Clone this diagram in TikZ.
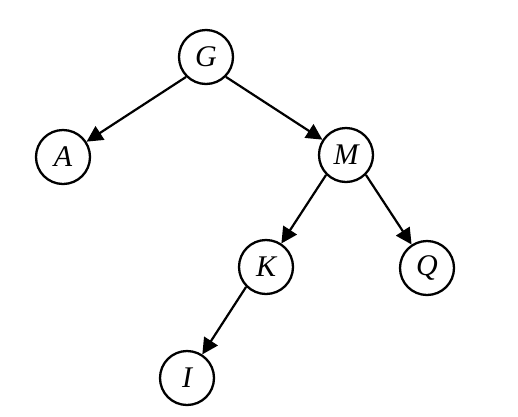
\documentclass[tikz,border=0pt]{standalone}
\usepackage{fontspec}
\setmainfont{Liberation Serif}
\usetikzlibrary{arrows.meta}
\begin{document}
\begin{tikzpicture}[x=1pt,y=-1pt,
  vtx/.style={circle,draw,line width=2.3pt,minimum size=54pt,inner sep=0pt,font=\fontsize{30}{32}\selectfont\itshape},
  edge/.style={line width=2.2pt,-{Triangle[length=16pt,width=16pt]}}]
\useasboundingbox (0,0) rectangle (518,416);
\node[vtx] (G) at (206,57) {G};
\node[vtx] (A) at (63,157) {A};
\node[vtx] (M) at (346,155) {M};
\node[vtx] (K) at (266,267) {K};
\node[vtx] (Q) at (427,268) {Q};
\node[vtx] (I) at (187,378) {I};
\draw[edge] (G.south west) -- (A);
\draw[edge] (G.south east) -- (M);
\draw[edge] (M.south west) -- (K);
\draw[edge] (M.south east) -- (Q);
\draw[edge] (K.south west) -- (I);
\end{tikzpicture}
\end{document}
